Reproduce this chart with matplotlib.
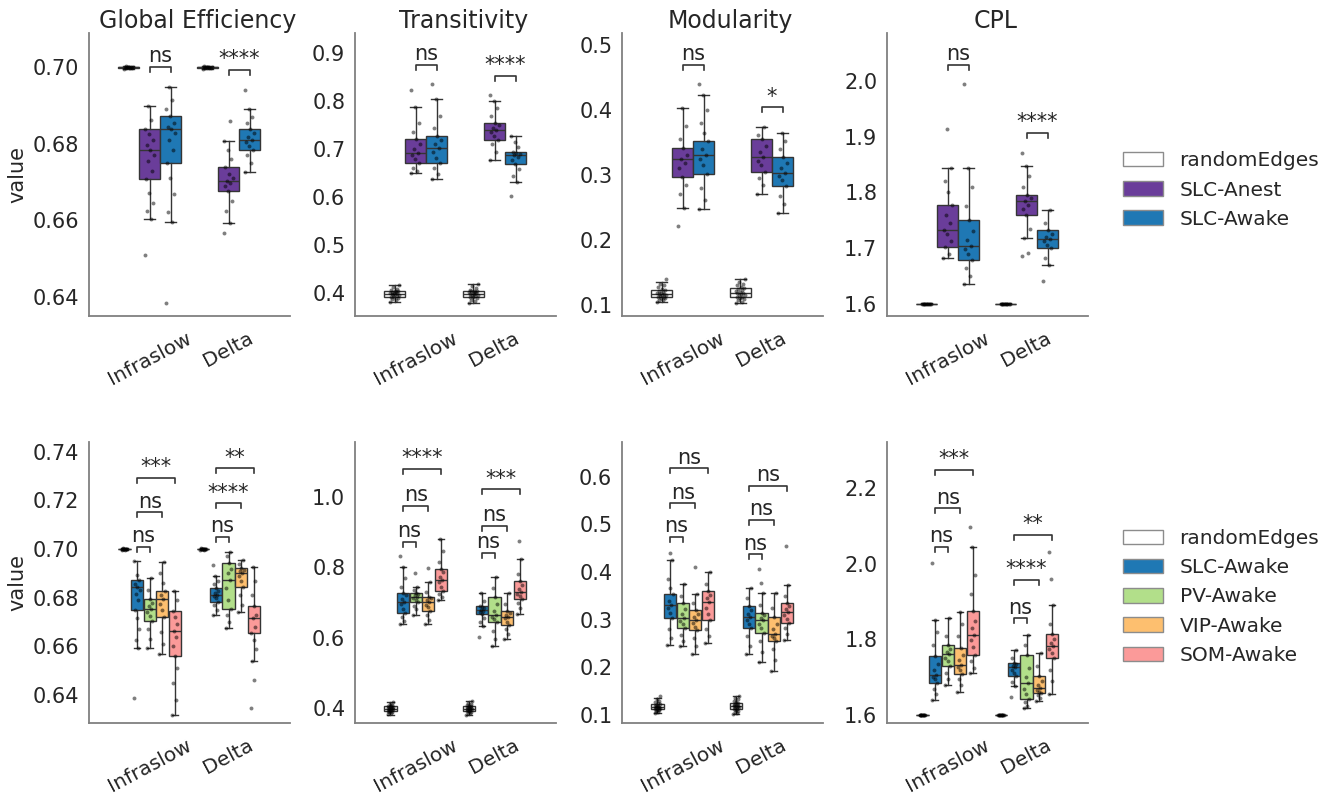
import matplotlib.pyplot as plt
import numpy as np
from matplotlib.patches import Patch

bands = ['Infraslow', 'Delta']
metrics = ['Global Efficiency', 'Transitivity', 'Modularity', 'CPL']
top_groups = ['randomEdges', 'SLC-Anest', 'SLC-Awake']
bottom_groups = ['randomEdges', 'SLC-Awake', 'PV-Awake', 'VIP-Awake', 'SOM-Awake']
colors = {'randomEdges': 'white', 'SLC-Anest': '#6a3d9a', 'SLC-Awake': '#1f78b4',
          'PV-Awake': '#b2df8a', 'VIP-Awake': '#fdbf6f', 'SOM-Awake': '#fb9a99'}

# box stats: (whislo, q1, median, q3, whishi) for each group of a band
# points: the single observations drawn on top of the boxes
# sig: (band, group a, group b, bracket height, label)

# randomEdges observations (shared by both rows)
ge_rand = [0.6997, 0.6998, 0.6999, 0.6999, 0.7, 0.7, 0.7, 0.7001, 0.7001, 0.7002, 0.7003]
tr_rand_inf = [0.383, 0.386, 0.388, 0.39, 0.392, 0.393, 0.395, 0.396, 0.397, 0.398, 0.399, 0.4,
               0.4, 0.401, 0.402, 0.403, 0.404, 0.405, 0.407, 0.41, 0.413, 0.418]
tr_rand_del = [0.381, 0.385, 0.387, 0.39, 0.392, 0.393, 0.394, 0.396, 0.397, 0.398, 0.399, 0.4,
               0.401, 0.402, 0.403, 0.404, 0.405, 0.406, 0.408, 0.411, 0.415, 0.419]
mo_rand_inf = [0.105, 0.107, 0.108, 0.11, 0.111, 0.112, 0.113, 0.114, 0.115, 0.116, 0.117, 0.117,
               0.118, 0.119, 0.12, 0.121, 0.123, 0.125, 0.127, 0.13, 0.133, 0.14]
mo_rand_del = [0.1026, 0.105, 0.107, 0.109, 0.11, 0.112, 0.113, 0.115, 0.116, 0.117, 0.118,
               0.119, 0.12, 0.121, 0.123, 0.124, 0.126, 0.128, 0.13, 0.133, 0.136, 0.1395]
cpl_rand = [1.5996, 1.5997, 1.5998, 1.5999, 1.6, 1.6, 1.6, 1.6001, 1.6002, 1.6003, 1.6004]

# ---- top row: randomEdges / SLC-Anest / SLC-Awake ----
ge_top_box = {
    'Infraslow': [(0.6997, 0.6999, 0.7000, 0.7001, 0.7003),
                  (0.6604, 0.6708, 0.6785, 0.6838, 0.6899),
                  (0.6595, 0.6750, 0.6838, 0.6872, 0.6949)],
    'Delta': [(0.6997, 0.6999, 0.7000, 0.7001, 0.7003),
              (0.6593, 0.6676, 0.6702, 0.6739, 0.6807),
              (0.6726, 0.6783, 0.6811, 0.6839, 0.6890)],
}
ge_top_pts = {
    'Infraslow': [ge_rand,
                  [0.651, 0.6604, 0.6625, 0.6645, 0.6672, 0.6708, 0.673, 0.6755, 0.6772, 0.6785,
                   0.6798, 0.681, 0.6825, 0.6838, 0.6862, 0.6899],
                  [0.6383, 0.6595, 0.6622, 0.6668, 0.6712, 0.675, 0.6785, 0.681, 0.6828, 0.6838,
                   0.6845, 0.6855, 0.6872, 0.689, 0.6915, 0.6949]],
    'Delta': [ge_rand,
              [0.6567, 0.6593, 0.6625, 0.665, 0.6676, 0.669, 0.6698, 0.6702, 0.671, 0.6722,
               0.6739, 0.676, 0.6785, 0.6807, 0.686],
              [0.6726, 0.675, 0.677, 0.6783, 0.6795, 0.6805, 0.6811, 0.6818, 0.6828, 0.6839,
               0.6855, 0.687, 0.689, 0.694]],
}
ge_top_sig = [(0, 1, 2, 0.7001, 'ns'), (1, 1, 2, 0.6993, '****')]

tr_top_box = {
    'Infraslow': [(0.382, 0.392, 0.399, 0.405, 0.418),
                  (0.650, 0.671, 0.692, 0.721, 0.789),
                  (0.638, 0.671, 0.702, 0.728, 0.805)],
    'Delta': [(0.381, 0.392, 0.398, 0.405, 0.419),
              (0.678, 0.7194, 0.740, 0.7555, 0.801),
              (0.6325, 0.669, 0.688, 0.694, 0.728)],
}
tr_top_pts = {
    'Infraslow': [tr_rand_inf,
                  [0.65, 0.655, 0.662, 0.671, 0.68, 0.688, 0.692, 0.70, 0.71, 0.721, 0.735, 0.755,
                   0.789, 0.8235],
                  [0.638, 0.648, 0.66, 0.671, 0.682, 0.695, 0.702, 0.71, 0.72, 0.728, 0.745, 0.77,
                   0.805, 0.836]],
    'Delta': [tr_rand_del,
              [0.678, 0.695, 0.71, 0.7194, 0.728, 0.735, 0.74, 0.745, 0.75, 0.7555, 0.77, 0.785,
               0.801, 0.813],
              [0.603, 0.6325, 0.645, 0.658, 0.669, 0.678, 0.684, 0.688, 0.69, 0.692, 0.694, 0.705,
               0.715, 0.728]],
}
tr_top_sig = [(0, 1, 2, 0.876, 'ns'), (1, 1, 2, 0.853, '****')]

mo_top_box = {
    'Infraslow': [(0.105, 0.1128, 0.117, 0.123, 0.135),
                  (0.2497, 0.2965, 0.324, 0.342, 0.4035),
                  (0.247, 0.3015, 0.331, 0.3528, 0.423)],
    'Delta': [(0.1026, 0.1128, 0.118, 0.1257, 0.1395),
              (0.2708, 0.305, 0.328, 0.355, 0.374),
              (0.242, 0.2835, 0.3035, 0.328, 0.365)],
}
mo_top_pts = {
    'Infraslow': [mo_rand_inf,
                  [0.2215, 0.2497, 0.27, 0.285, 0.2965, 0.31, 0.318, 0.324, 0.33, 0.342, 0.355,
                   0.375, 0.4035],
                  [0.247, 0.262, 0.28, 0.3015, 0.315, 0.325, 0.331, 0.34, 0.3528, 0.365, 0.38,
                   0.40, 0.423, 0.4395]],
    'Delta': [mo_rand_del,
              [0.2708, 0.285, 0.295, 0.305, 0.315, 0.322, 0.328, 0.335, 0.345, 0.355, 0.362, 0.374],
              [0.242, 0.255, 0.268, 0.2835, 0.292, 0.298, 0.3035, 0.31, 0.318, 0.328, 0.34, 0.352,
               0.365]],
}
mo_top_sig = [(0, 1, 2, 0.469, 'ns'), (1, 1, 2, 0.404, '*')]

cpl_top_box = {
    'Infraslow': [(1.5995, 1.5998, 1.6, 1.6002, 1.6005),
                  (1.682, 1.701, 1.733, 1.7776, 1.843),
                  (1.6353, 1.679, 1.703, 1.7507, 1.8445)],
    'Delta': [(1.5995, 1.5998, 1.6, 1.6002, 1.6005),
              (1.718, 1.7596, 1.7848, 1.7955, 1.8475),
              (1.67, 1.6999, 1.7166, 1.7327, 1.7674)],
}
cpl_top_pts = {
    'Infraslow': [cpl_rand,
                  [1.682, 1.69, 1.701, 1.712, 1.725, 1.733, 1.745, 1.76, 1.7776, 1.8, 1.82, 1.843,
                   1.913],
                  [1.6353, 1.65, 1.665, 1.679, 1.69, 1.698, 1.703, 1.715, 1.73, 1.7507, 1.775, 1.81,
                   1.8445, 1.9946]],
    'Delta': [cpl_rand,
              [1.686, 1.691, 1.718, 1.735, 1.7596, 1.77, 1.778, 1.7848, 1.79, 1.7955, 1.81, 1.83,
               1.8475, 1.8714],
              [1.641, 1.67, 1.682, 1.6999, 1.706, 1.712, 1.7166, 1.72, 1.726, 1.7327, 1.745,
               1.7674]],
}
cpl_top_sig = [(0, 1, 2, 2.0287, 'ns'), (1, 1, 2, 1.907, '****')]

# ---- bottom row: randomEdges / SLC / PV / VIP / SOM (awake) ----
ge_bot_box = {
    'Infraslow': [(0.6997, 0.6999, 0.7000, 0.7001, 0.7003),
                  (0.6594, 0.6749, 0.6845, 0.6873, 0.6951),
                  (0.6592, 0.6705, 0.6752, 0.6795, 0.6882),
                  (0.6567, 0.6722, 0.6793, 0.6829, 0.6948),
                  (0.6318, 0.6560, 0.6664, 0.6746, 0.6829)],
    'Delta': [(0.6997, 0.6999, 0.7000, 0.7001, 0.7003),
              (0.6729, 0.6783, 0.6811, 0.6838, 0.6889),
              (0.6677, 0.6752, 0.6873, 0.6944, 0.6989),
              (0.6740, 0.6843, 0.6900, 0.6923, 0.6955),
              (0.6540, 0.6656, 0.6715, 0.6766, 0.6927)],
}
ge_bot_pts = {
    'Infraslow': [ge_rand,
                  [0.6389, 0.6594, 0.6625, 0.667, 0.6715, 0.6749, 0.679, 0.6815, 0.683, 0.6845,
                   0.6855, 0.6873, 0.6895, 0.6951],
                  [0.6592, 0.663, 0.667, 0.6705, 0.6725, 0.674, 0.6752, 0.6765, 0.678, 0.6795,
                   0.683, 0.6882],
                  [0.6567, 0.661, 0.666, 0.6722, 0.675, 0.6775, 0.6793, 0.681, 0.6829, 0.686, 0.69,
                   0.6948],
                  [0.6318, 0.638, 0.645, 0.651, 0.656, 0.66, 0.664, 0.6664, 0.669, 0.672, 0.6746,
                   0.679, 0.6829]],
    'Delta': [ge_rand,
              [0.6729, 0.675, 0.677, 0.6783, 0.6797, 0.6805, 0.6811, 0.6818, 0.6828, 0.6838,
               0.6855, 0.687, 0.6889, 0.6935],
              [0.6677, 0.670, 0.673, 0.6752, 0.679, 0.684, 0.6873, 0.69, 0.692, 0.6944, 0.697,
               0.6989],
              [0.674, 0.677, 0.681, 0.6843, 0.687, 0.689, 0.69, 0.691, 0.6915, 0.6923, 0.694,
               0.6955],
              [0.6345, 0.6462, 0.654, 0.659, 0.6625, 0.6656, 0.668, 0.6715, 0.673, 0.6766, 0.681,
               0.687, 0.6927]],
}
ge_bot_sig = [(0, 1, 2, 0.701, 'ns'), (0, 1, 3, 0.7151, 'ns'), (0, 1, 4, 0.7293, '***'),
              (1, 1, 2, 0.705, 'ns'), (1, 1, 3, 0.7188, '****'), (1, 1, 4, 0.7332, '**')]

tr_bot_box = {
    'Infraslow': [(0.382, 0.392, 0.399, 0.405, 0.418),
                  (0.638, 0.669, 0.702, 0.726, 0.8015),
                  (0.665, 0.700, 0.716, 0.728, 0.745),
                  (0.638, 0.676, 0.700, 0.7165, 0.759),
                  (0.707, 0.731, 0.764, 0.794, 0.879)],
    'Delta': [(0.381, 0.392, 0.398, 0.405, 0.419),
              (0.633, 0.6666, 0.679, 0.690, 0.726),
              (0.5775, 0.6456, 0.6646, 0.7165, 0.773),
              (0.5957, 0.636, 0.660, 0.676, 0.728),
              (0.6674, 0.709, 0.7307, 0.761, 0.8225)],
}
tr_bot_pts = {
    'Infraslow': [tr_rand_inf,
                  [0.638, 0.648, 0.66, 0.669, 0.68, 0.695, 0.702, 0.71, 0.72, 0.726, 0.745, 0.77,
                   0.8015, 0.832],
                  [0.665, 0.68, 0.69, 0.70, 0.706, 0.712, 0.716, 0.72, 0.724, 0.728, 0.735, 0.745,
                   0.783],
                  [0.638, 0.65, 0.663, 0.676, 0.686, 0.694, 0.70, 0.706, 0.712, 0.7165, 0.73, 0.759,
                   0.797],
                  [0.707, 0.715, 0.723, 0.731, 0.745, 0.757, 0.764, 0.772, 0.785, 0.794, 0.815,
                   0.845, 0.879]],
    'Delta': [tr_rand_del,
              [0.603, 0.633, 0.645, 0.657, 0.6666, 0.672, 0.676, 0.679, 0.683, 0.687, 0.69, 0.705,
               0.726],
              [0.5775, 0.595, 0.62, 0.6456, 0.652, 0.66, 0.6646, 0.675, 0.695, 0.7165, 0.74,
               0.773],
              [0.5957, 0.61, 0.625, 0.636, 0.645, 0.655, 0.66, 0.665, 0.67, 0.676, 0.695, 0.728],
              [0.6674, 0.685, 0.698, 0.709, 0.718, 0.725, 0.7307, 0.738, 0.75, 0.761, 0.78,
               0.8225, 0.875]],
}
tr_bot_sig = [(0, 1, 2, 0.8724, 'ns'), (0, 1, 3, 0.9736, 'ns'), (0, 1, 4, 1.0785, '****'),
              (1, 1, 2, 0.841, 'ns'), (1, 1, 3, 0.917, 'ns'), (1, 1, 4, 1.021, '***')]

mo_bot_box = {
    'Infraslow': [(0.105, 0.1128, 0.117, 0.123, 0.135),
                  (0.247, 0.303, 0.331, 0.354, 0.4253),
                  (0.2449, 0.282, 0.303, 0.3343, 0.3742),
                  (0.228, 0.2783, 0.2993, 0.3203, 0.3533),
                  (0.2518, 0.2993, 0.3378, 0.360, 0.3994)],
    'Delta': [(0.1026, 0.1128, 0.118, 0.1257, 0.1395),
              (0.2274, 0.2833, 0.3063, 0.3287, 0.3658),
              (0.2106, 0.2713, 0.2993, 0.3133, 0.3553),
              (0.193, 0.2553, 0.2693, 0.305, 0.3553),
              (0.2573, 0.2937, 0.3155, 0.3343, 0.3727)],
}
mo_bot_pts = {
    'Infraslow': [mo_rand_inf,
                  [0.247, 0.262, 0.28, 0.303, 0.315, 0.325, 0.331, 0.34, 0.354, 0.367, 0.385,
                   0.4253, 0.4406],
                  [0.2449, 0.255, 0.268, 0.282, 0.29, 0.297, 0.303, 0.312, 0.322, 0.3343, 0.35,
                   0.3742],
                  [0.228, 0.245, 0.262, 0.2783, 0.285, 0.293, 0.2993, 0.305, 0.312, 0.3203, 0.335,
                   0.3533, 0.4103],
                  [0.2518, 0.265, 0.28, 0.2993, 0.312, 0.325, 0.3378, 0.345, 0.352, 0.36, 0.375,
                   0.3994]],
    'Delta': [mo_rand_del,
              [0.2274, 0.245, 0.265, 0.2833, 0.292, 0.3, 0.3063, 0.312, 0.32, 0.3287, 0.345,
               0.3658],
              [0.2106, 0.232, 0.255, 0.2713, 0.282, 0.292, 0.2993, 0.304, 0.309, 0.3133, 0.33,
               0.3553, 0.3763, 0.4057],
              [0.193, 0.215, 0.238, 0.2553, 0.262, 0.266, 0.2693, 0.28, 0.292, 0.305, 0.325,
               0.3553],
              [0.2573, 0.27, 0.282, 0.2937, 0.302, 0.31, 0.3155, 0.322, 0.328, 0.3343, 0.35,
               0.3727, 0.4553]],
}
mo_bot_sig = [(0, 1, 2, 0.474, 'ns'), (0, 1, 3, 0.5442, 'ns'), (0, 1, 4, 0.6176, 'ns'),
              (1, 1, 2, 0.4372, 'ns'), (1, 1, 3, 0.5092, 'ns'), (1, 1, 4, 0.5811, 'ns')]

cpl_bot_box = {
    'Infraslow': [(1.5995, 1.5998, 1.6, 1.6002, 1.6005),
                  (1.640, 1.684, 1.706, 1.7563, 1.8516),
                  (1.6797, 1.7307, 1.7616, 1.7854, 1.856),
                  (1.662, 1.7087, 1.7325, 1.7767, 1.872),
                  (1.7105, 1.759, 1.812, 1.8754, 2.044)],
    'Delta': [(1.5995, 1.5998, 1.6, 1.6002, 1.6005),
              (1.677, 1.7035, 1.728, 1.737, 1.772),
              (1.618, 1.642, 1.684, 1.759, 1.812),
              (1.638, 1.6576, 1.671, 1.7035, 1.765),
              (1.6558, 1.7503, 1.7828, 1.8137, 1.8913)],
}
cpl_bot_pts = {
    'Infraslow': [cpl_rand,
                  [1.64, 1.655, 1.67, 1.684, 1.695, 1.7, 1.706, 1.72, 1.735, 1.7563, 1.785, 1.82,
                   1.8516, 2.003],
                  [1.6797, 1.695, 1.712, 1.7307, 1.742, 1.752, 1.7616, 1.768, 1.776, 1.7854, 1.81,
                   1.856],
                  [1.662, 1.68, 1.695, 1.7087, 1.718, 1.726, 1.7325, 1.745, 1.76, 1.7767, 1.81,
                   1.84, 1.872],
                  [1.7105, 1.725, 1.742, 1.759, 1.78, 1.798, 1.812, 1.83, 1.85, 1.8754, 1.92, 1.97,
                   2.044, 2.0985]],
    'Delta': [cpl_rand,
              [1.6487, 1.677, 1.688, 1.7035, 1.712, 1.72, 1.728, 1.731, 1.734, 1.737, 1.75, 1.772],
              [1.618, 1.625, 1.634, 1.642, 1.655, 1.67, 1.684, 1.7, 1.725, 1.759, 1.785, 1.812],
              [1.638, 1.645, 1.652, 1.6576, 1.662, 1.667, 1.671, 1.68, 1.69, 1.7035, 1.73, 1.765],
              [1.6558, 1.69, 1.72, 1.7503, 1.763, 1.775, 1.7828, 1.79, 1.8, 1.8137, 1.84, 1.8913,
               1.9593, 2.0323]],
}
cpl_bot_sig = [(0, 1, 2, 2.0455, 'ns'), (0, 1, 3, 2.147, 'ns'), (0, 1, 4, 2.248, '***'),
               (1, 1, 2, 1.856, 'ns'), (1, 1, 3, 1.9574, '****'), (1, 1, 4, 2.0765, '**')]

# axis ranges and ticks
top_ylims = [(0.635, 0.709), (0.353, 0.942), (0.083, 0.5185), (1.578, 2.086)]
bot_ylims = [(0.6285, 0.744), (0.358, 1.155), (0.0833, 0.6728), (1.579, 2.3225)]
top_yticks = [[0.64, 0.66, 0.68, 0.70], [0.4, 0.5, 0.6, 0.7, 0.8, 0.9],
              [0.1, 0.2, 0.3, 0.4, 0.5], [1.6, 1.7, 1.8, 1.9, 2.0]]
bot_yticks = [[0.64, 0.66, 0.68, 0.70, 0.72, 0.74], [0.4, 0.6, 0.8, 1.0],
              [0.1, 0.2, 0.3, 0.4, 0.5, 0.6], [1.6, 1.8, 2.0, 2.2]]
top_fmt = ['%.2f', '%.1f', '%.1f', '%.1f']
bot_fmt = ['%.2f', '%.1f', '%.1f', '%.1f']

TXT = '#262626'
EDGE = '#353535'
W, H = 1342, 797
fig = plt.figure(figsize=(W / 100, H / 100), dpi=100)

col_left = [89, 355, 622, 887]
ax_w = 201
row_top = [33, 442]
row_bot = [316, 723]


def draw_panel(ax, groups, box, pts, sig, ylim, yticks, fmt):
    n = len(groups)
    step = 0.8 / n
    all_pos = []
    for b, band in enumerate(bands):
        pos = [b + (k - (n - 1) / 2) * step for k in range(n)]
        all_pos.append(pos)
        stats = [dict(whislo=s[0], q1=s[1], med=s[2], q3=s[3], whishi=s[4], fliers=[])
                 for s in box[band]]
        art = ax.bxp(stats, positions=pos, widths=step * 0.98, patch_artist=True,
                     showfliers=False, capwidths=step * 0.5, manage_ticks=False,
                     boxprops=dict(edgecolor=EDGE, linewidth=1.0),
                     whiskerprops=dict(color=EDGE, linewidth=1.0),
                     capprops=dict(color=EDGE, linewidth=1.0),
                     medianprops=dict(color=EDGE, linewidth=1.0))
        for patch, g in zip(art['boxes'], groups):
            patch.set_facecolor(colors[g])
        for k, vals in enumerate(pts[band]):
            m = len(vals)
            jit = ((np.arange(m) * 0.618) % 1 - 0.5) * step * 0.45
            ax.scatter(pos[k] + jit, vals, s=8, color='black', alpha=0.5,
                       linewidths=0, zorder=4)
    ax.set_xlim(-0.77, 1.78)
    ax.set_ylim(*ylim)
    h = (ylim[1] - ylim[0]) * 5 / 283
    for b, g1, g2, y, label in sig:
        x1, x2 = all_pos[b][g1], all_pos[b][g2]
        ax.plot([x1, x1, x2, x2], [y - h, y, y, y - h], color=EDGE, lw=1.2,
                clip_on=False, zorder=5)
        ax.annotate(label, ((x1 + x2) / 2, y), xytext=(0, 0.5), textcoords='offset points',
                    ha='center', va='bottom', fontsize=15, color=TXT, annotation_clip=False)
    ax.set_yticks(yticks)
    ax.set_yticklabels([fmt % t for t in yticks])
    ax.set_xticks([0, 1])
    ax.set_xticklabels(bands, rotation=28, ha='center')
    ax.tick_params(axis='both', length=0, colors=TXT)
    ax.tick_params(axis='x', pad=9, labelsize=14.5)
    ax.tick_params(axis='y', pad=7, labelsize=15)
    for side in ['top', 'right']:
        ax.spines[side].set_visible(False)
    for side in ['left', 'bottom']:
        ax.spines[side].set_color('0.5')
        ax.spines[side].set_linewidth(1.3)


top_data = [(ge_top_box, ge_top_pts, ge_top_sig), (tr_top_box, tr_top_pts, tr_top_sig),
            (mo_top_box, mo_top_pts, mo_top_sig), (cpl_top_box, cpl_top_pts, cpl_top_sig)]
bot_data = [(ge_bot_box, ge_bot_pts, ge_bot_sig), (tr_bot_box, tr_bot_pts, tr_bot_sig),
            (mo_bot_box, mo_bot_pts, mo_bot_sig), (cpl_bot_box, cpl_bot_pts, cpl_bot_sig)]

for r, (groups, data, ylims, yticks, fmts) in enumerate(
        [(top_groups, top_data, top_ylims, top_yticks, top_fmt),
         (bottom_groups, bot_data, bot_ylims, bot_yticks, bot_fmt)]):
    for c in range(4):
        rect = [col_left[c] / W, 1 - row_bot[r] / H, ax_w / W, (row_bot[r] - row_top[r]) / H]
        ax = fig.add_axes(rect)
        box, pts, sig = data[c]
        draw_panel(ax, groups, box, pts, sig, ylims[c], yticks[c], fmts[c])
        if r == 0:
            ax.set_title(metrics[c], fontsize=17, color=TXT, x=0.54, pad=2)
        if c == 0:
            ax.set_ylabel('value', fontsize=15, color=TXT, labelpad=4)

for groups, ycen in [(top_groups, 1 - 190 / H), (bottom_groups, 1 - 597 / H)]:
    handles = [Patch(facecolor=colors[g], edgecolor='0.55', linewidth=1.0) for g in groups]
    fig.legend(handles, groups, loc='center left', bbox_to_anchor=(1105 / W, ycen),
               frameon=False, fontsize=14.5, labelcolor=TXT)

fig.savefig('out.png', dpi=100)
